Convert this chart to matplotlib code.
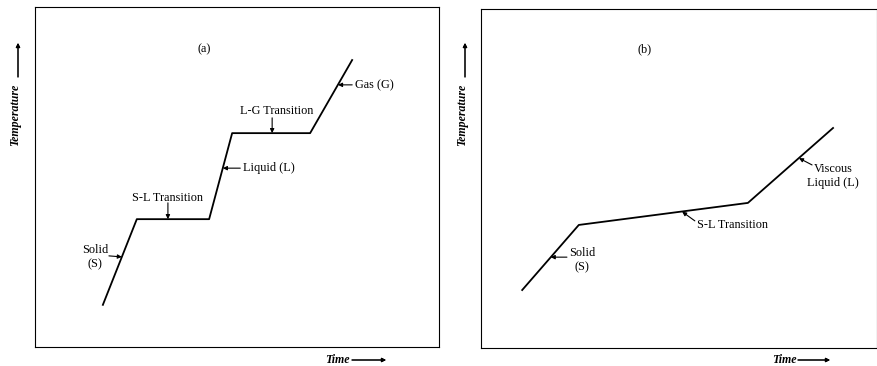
import matplotlib.pyplot as plt

plt.rcParams['font.family'] = ['Liberation Serif', 'DejaVu Serif']

# Heating curves, arbitrary units (time, temperature) on a 0-100 scale
time_a = [16.8, 25.2, 43.1, 48.8, 68.1, 78.5]
temp_a = [12.4, 37.6, 37.6, 62.9, 62.9, 84.4]

time_b = [10.4, 24.7, 67.4, 88.9]
temp_b = [17.1, 36.3, 42.8, 64.9]

W, H = 878, 366
fig = plt.figure(figsize=(W / 100, H / 100), dpi=100)


def px_axes(x0, y0, x1, y1):
    # pixel box (top-left origin) -> axes
    return fig.add_axes([x0 / W, 1 - y1 / H, (x1 - x0) / W, (y1 - y0) / H])


def fpos(x, y):
    return (x / W, 1 - y / H)


arrow = dict(arrowstyle='-|>', lw=0.8, color='black', mutation_scale=6,
             shrinkA=0, shrinkB=0)
fs = 8.8

ax1 = px_axes(35, 7, 439, 347)
ax2 = px_axes(481, 9, 877, 348)

for ax in (ax1, ax2):
    ax.set_xlim(0, 100)
    ax.set_ylim(0, 100)
    ax.set_xticks([])
    ax.set_yticks([])
    for s in ax.spines.values():
        s.set_linewidth(0.8)
        s.set_color('black')

# (a)
ax1.plot(time_a, temp_a, color='black', lw=1.3)
ax1.text(41.8, 87.6, '(a)', fontsize=fs, ha='center', va='center')
ax1.annotate('Gas (G)', xy=(75.0, 77.1), xytext=(79.2, 77.1),
             fontsize=fs, ha='left', va='center', arrowprops=arrow)
ax1.text(59.7, 69.4, 'L-G Transition', fontsize=fs, ha='center', va='center')
ax1.annotate('', xy=(58.7, 62.9), xytext=(58.7, 67.4), arrowprops=arrow)
ax1.annotate('Liquid (L)', xy=(46.5, 52.6), xytext=(51.5, 52.6),
             fontsize=fs, ha='left', va='center', arrowprops=arrow)
ax1.text(32.7, 43.8, 'S-L Transition', fontsize=fs, ha='center', va='center')
ax1.annotate('', xy=(32.9, 37.6), xytext=(32.9, 42.4), arrowprops=arrow)
ax1.text(14.9, 26.5, 'Solid\n(S)', fontsize=fs, ha='center', va='center',
         linespacing=1.3)
ax1.annotate('', xy=(21.5, 26.5), xytext=(18.3, 26.8), arrowprops=arrow)

# (b)
ax2.plot(time_b, temp_b, color='black', lw=1.3)
ax2.text(41.4, 88.2, '(b)', fontsize=fs, ha='center', va='center')
ax2.text(88.9, 50.7, 'Viscous\nLiquid (L)', fontsize=fs, ha='center',
         va='center', linespacing=1.3)
ax2.annotate('', xy=(80.3, 56.0), xytext=(83.6, 54.0), arrowprops=arrow)
ax2.text(54.5, 36.3, 'S-L Transition', fontsize=fs, ha='left', va='center')
ax2.annotate('', xy=(50.8, 40.2), xytext=(54.0, 37.5), arrowprops=arrow)
ax2.text(25.5, 26.0, 'Solid\n(S)', fontsize=fs, ha='center', va='center',
         linespacing=1.3)
ax2.annotate('', xy=(17.6, 26.8), xytext=(21.7, 26.8), arrowprops=arrow)

# axis labels with arrows
lab = dict(fontsize=8.6, style='italic', weight='bold')
for tx, ax_x, time_x, arr_x0, arr_x1 in ((15, 18, 325, 352, 386),
                                          (462, 465, 772, 798, 830)):
    fig.text(*fpos(tx, 115), 'Temperature', rotation=90, ha='center',
             va='center', **lab)
    fig.add_artist(plt.annotate('', xy=fpos(ax_x, 43), xytext=fpos(ax_x, 77),
                                xycoords='figure fraction',
                                textcoords='figure fraction',
                                arrowprops=arrow))
    fig.text(*fpos(time_x, 360), 'Time', ha='left', va='center', **lab)
    fig.add_artist(plt.annotate('', xy=fpos(arr_x1, 360),
                                xytext=fpos(arr_x0, 360),
                                xycoords='figure fraction',
                                textcoords='figure fraction',
                                arrowprops=arrow))

fig.savefig('out.png', dpi=100)
